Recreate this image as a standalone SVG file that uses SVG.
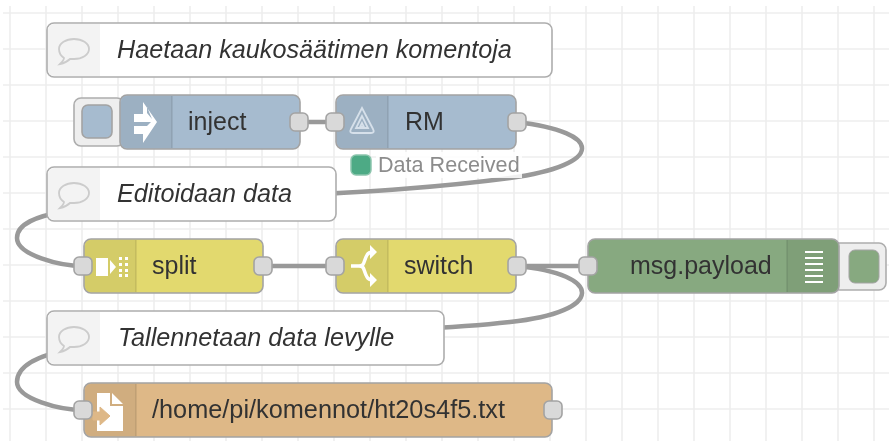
<svg xmlns="http://www.w3.org/2000/svg" width="889" height="441" viewBox="0 0 889 441">
<defs>
<filter id="soft" x="0" y="0" width="100%" height="100%"><feGaussianBlur stdDeviation="0.45"/></filter>
<style>
.grid{stroke:#eeeeee;stroke-width:1.6;fill:none}
.wire{stroke:#999999;stroke-width:4.5;fill:none}
.node{stroke:#a3a3a3;stroke-width:1.6}
.cmt{fill:#ffffff;stroke:#adadad;stroke-width:1.6}
.cicon{fill:#f3f3f3}
.sep{stroke:#000;stroke-opacity:.1;stroke-width:1.5}
.shade{fill:#000;fill-opacity:.06}
.port{fill:#d9d9d9;stroke:#a3a3a3;stroke-width:1.6}
.btn{fill:#eeeeee;stroke:#adadad;stroke-width:1.6}
.t{font-family:"Liberation Sans",Arial,sans-serif;font-size:25px;fill:#333333}
.p{font-size:25.3px}
.c{font-family:"Liberation Sans",Arial,sans-serif;font-size:25.2px;font-style:italic;fill:#333333}
.s{font-family:"Liberation Sans",Arial,sans-serif;font-size:21.6px;fill:#8c8c8c}
.gi{fill:none;stroke:#cccccc;stroke-width:1.8}
</style>
</defs>
<g filter="url(#soft)">
<rect width="889" height="441" fill="#ffffff"/>
<path class="grid" d="M10 6V441M46 6V441M82 6V441M118 6V441M154 6V441M190 6V441M226 6V441M262 6V441M298 6V441M334 6V441M370 6V441M406 6V441M442 6V441M478 6V441M514 6V441M550 6V441M586 6V441M622 6V441M658 6V441M694 6V441M730 6V441M766 6V441M802 6V441M838 6V441M874 6V441M3 13H889M3 49H889M3 85H889M3 121H889M3 157H889M3 193H889M3 229H889M3 265H889M3 301H889M3 337H889M3 373H889M3 409H889"/>
<g id="connectors">
<path class="wire" d="M298 122H335"/>
<path class="wire" d="M516 122C605 132 605 165 510 178C420 190 336 193 250 198C120 206 17 205 17 238C17 255 60 266 83 266"/>
<path class="wire" d="M263 266H336"/>
<path class="wire" d="M516 266H588"/>
<path class="wire" d="M516 266C605 274 605 312 510 322C420 332 300 332 220 336C120 342 17 345 17 382C17 399 60 410 83 410"/>
</g>
<g id="comment1">
<rect class="cmt" x="47" y="23" width="505" height="54" rx="7"/>
<path class="cicon" d="M48 30a6 6 0 0 1 6-6h46v52h-46a6 6 0 0 1-6-6z"/>
<path class="gi" d="M64 58c-3-2-5-5-5-9c0-6 7-10 15-10s15 4 15 10s-7 10-15 10c-1 0-3 0-4 0c-2 2-5 4-10 5c2-2 4-4 4-6z"/>
<text class="c" x="117" y="58">Haetaan kaukosäätimen komentoja</text>
</g>
<g id="inject">
<rect class="btn" x="74" y="98" width="50" height="48" rx="7"/>
<rect x="82" y="105" width="30" height="33" rx="6" fill="#a6bbcf" stroke="#a3a3a3" stroke-width="1.6"/>
<rect class="node" x="120" y="95" width="180" height="54" rx="7" fill="#a6bbcf"/>
<path class="shade" d="M121 102a6 6 0 0 1 6-6h45v52h-45a6 6 0 0 1-6-6z"/>
<path class="sep" d="M172 96V148"/>
<path fill="#ffffff" d="M143 102l14 20l-14 21v-9h-9v-8h13l4-4h-17v-8h9zM147 107v6l5 6z"/>
<text class="t" x="188" y="130">inject</text>
<rect class="port" x="290" y="113" width="18" height="18" rx="5"/>
</g>
<g id="rm">
<rect class="node" x="336" y="95" width="180" height="54" rx="7" fill="#a6bbcf"/>
<path class="shade" d="M337 102a6 6 0 0 1 6-6h45v52h-45a6 6 0 0 1-6-6z"/>
<path class="sep" d="M388 96V148"/>
<path fill="none" stroke="#d6e0ea" stroke-width="1.8" d="M362 108l-11 21q-2 4 2 4h18q4 0 2-4l-11-21zM362 116l-6 12h12zM362 123l-2 4h4z"/>
<text class="t" x="405" y="130">RM</text>
<rect class="port" x="326" y="113" width="18" height="18" rx="5"/>
<rect class="port" x="508" y="113" width="18" height="18" rx="5"/>
<rect x="376" y="152" width="146" height="26" fill="#ffffff" fill-opacity=".85"/>
<rect x="351" y="155" width="20" height="20" rx="5" fill="#4daa85" stroke="#8cc5ad" stroke-width="1.5"/>
<text class="s" x="378" y="172">Data Received</text>
</g>
<g id="comment2">
<rect class="cmt" x="47" y="167" width="289" height="54" rx="7"/>
<path class="cicon" d="M48 174a6 6 0 0 1 6-6h46v52h-46a6 6 0 0 1-6-6z"/>
<path class="gi" d="M64 202c-3-2-5-5-5-9c0-6 7-10 15-10s15 4 15 10s-7 10-15 10c-1 0-3 0-4 0c-2 2-5 4-10 5c2-2 4-4 4-6z"/>
<text class="c" x="117" y="202">Editoidaan data</text>
</g>
<g id="split">
<rect class="node" x="84" y="239" width="179" height="54" rx="7" fill="#e2d96e"/>
<path class="shade" d="M85 246a6 6 0 0 1 6-6h45v52h-45a6 6 0 0 1-6-6z"/>
<path class="sep" d="M136 240V292"/>
<path fill="#ffffff" d="M96 258h12v18h-12zM110 260l6 7l-6 7zM119 257h3v3h-3zM125 257h3v3h-3zM119 263h3v3h-3zM125 263h3v3h-3zM119 269h3v3h-3zM125 269h3v3h-3zM119 274h3v3h-3zM125 274h3v3h-3z"/>
<text class="t" x="152" y="274">split</text>
<rect class="port" x="74" y="257" width="18" height="18" rx="5"/>
<rect class="port" x="254" y="257" width="18" height="18" rx="5"/>
</g>
<g id="switch">
<rect class="node" x="336" y="239" width="180" height="54" rx="7" fill="#e2d96e"/>
<path class="shade" d="M337 246a6 6 0 0 1 6-6h45v52h-45a6 6 0 0 1-6-6z"/>
<path class="sep" d="M388 240V292"/>
<path fill="none" stroke="#ffffff" stroke-width="3.5" d="M351 266h8c6 0 4-4 8-11c1-2 3-3 6-3M359 266c6 0 4 4 8 11c1 2 3 3 6 3"/>
<path fill="#ffffff" d="M370 245l7 7l-7 7zM370 273l7 7l-7 7z"/>
<text class="t" x="404" y="274">switch</text>
<rect class="port" x="326" y="257" width="18" height="18" rx="5"/>
<rect class="port" x="508" y="257" width="18" height="18" rx="5"/>
</g>
<g id="msg-payload">
<rect class="btn" x="832" y="243" width="54" height="47" rx="7"/>
<rect x="849" y="250" width="30" height="33" rx="6" fill="#87a980" stroke="#a3a3a3" stroke-width="1"/>
<rect class="node" x="588" y="239" width="251" height="54" rx="7" fill="#87a980"/>
<path class="shade" d="M787 240h45a6 6 0 0 1 6 6v40a6 6 0 0 1-6 6h-45z"/>
<path class="sep" d="M787 240V292"/>
<path fill="none" stroke="#ffffff" stroke-width="2" d="M805 252h18M805 258h18M805 264h18M805 270h18M805 276h18M805 282h18"/>
<text class="t" x="630" y="274">msg.payload</text>
<rect class="port" x="579" y="257" width="18" height="18" rx="5"/>
</g>
<g id="comment3">
<rect class="cmt" x="47" y="311" width="397" height="54" rx="7"/>
<path class="cicon" d="M48 318a6 6 0 0 1 6-6h46v52h-46a6 6 0 0 1-6-6z"/>
<path class="gi" d="M64 346c-3-2-5-5-5-9c0-6 7-10 15-10s15 4 15 10s-7 10-15 10c-1 0-3 0-4 0c-2 2-5 4-10 5c2-2 4-4 4-6z"/>
<text class="c" x="118" y="346">Tallennetaan data levylle</text>
</g>
<g id="file">
<rect class="node" x="84" y="383" width="468" height="54" rx="7" fill="#deb887"/>
<path class="shade" d="M85 390a6 6 0 0 1 6-6h45v52h-45a6 6 0 0 1-6-6z"/>
<path class="sep" d="M136 384V436"/>
<path fill="#ffffff" d="M97 393h13v13h13v25h-26zM112 393l11 11h-11z"/>
<path fill="#deb887" stroke="#deb887" d="M93 412h7v-5l10 9l-10 9v-5h-7z"/>
<text class="t p" x="152" y="418">/home/pi/komennot/ht20s4f5.txt</text>
<rect class="port" x="74" y="401" width="18" height="18" rx="5"/>
<rect class="port" x="544" y="401" width="18" height="18" rx="5"/>
</g>
</g>
</svg>
